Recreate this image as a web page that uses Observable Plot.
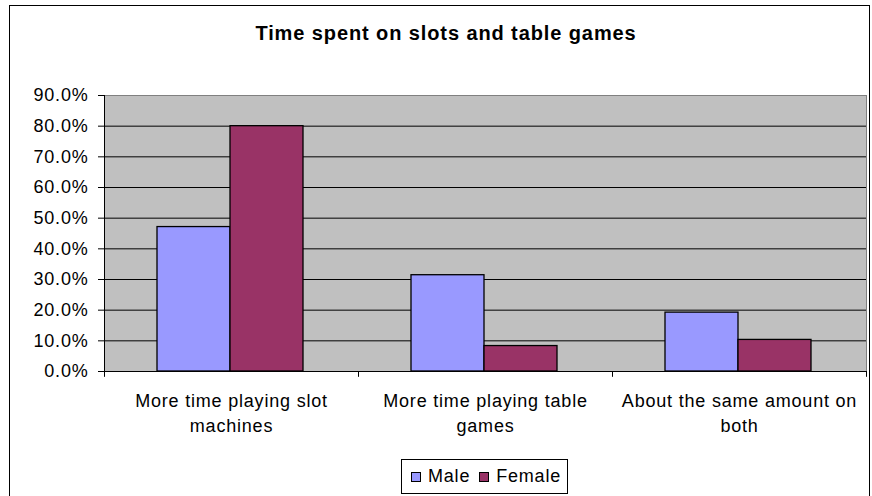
<!DOCTYPE html>
<html>
<head>
<meta charset="utf-8">
<script src="https://cdn.jsdelivr.net/npm/d3@7"></script>
<script src="https://cdn.jsdelivr.net/npm/@observablehq/plot@0.6"></script>
<style>
  body { margin: 0; background: #fff; }
  #wrap { position: relative; width: 872px; height: 496px; overflow: hidden; font-family: Arial, "Liberation Sans", sans-serif; color: #000; }
  #chart { position: absolute; left: 0; top: 0; }
  #border { position: absolute; left: 9px; top: 5px; width: 861px; height: 530px; border: 1px solid #000; box-sizing: border-box; pointer-events: none; }
  #title { position: absolute; left: 10px; width: 872px; top: 23px; line-height: 20px; text-align: center; font-weight: bold; font-size: 20px; letter-spacing: 0.9px; white-space: nowrap; }
  #legend { position: absolute; left: 401px; top: 459px; width: 167px; height: 35px; border: 1px solid #000; box-sizing: border-box; background: #fff; display: flex; align-items: center; padding-left: 9px; font-size: 18px; letter-spacing: 0.8px; white-space: nowrap; }
  #legend .sw { display: inline-block; width: 8px; height: 8px; border: 1px solid #000; margin-right: 7px; }
  #legend .item { display: flex; align-items: center; margin-right: 9px; }
</style>
</head>
<body>
<div id="wrap">
  <div id="chart"></div>
  <div id="title"></div>
  <div id="legend"></div>
  <div id="border"></div>
</div>
<script>
const titleText = "Time spent on slots and table games";
const categories = [
  "More time playing slot machines",
  "More time playing table games",
  "About the same amount on both"
];
const categoryLabels = [
  "More time playing slot\nmachines",
  "More time playing table\ngames",
  "About the same amount on\nboth"
];
const series = ["Male", "Female"];
const maleValues = [47.1, 31.4, 19.2];
const femaleValues = [80.0, 8.3, 10.3];
const seriesColors = ["#9999FF", "#993366"];
const yTicks = [0, 10, 20, 30, 40, 50, 60, 70, 80, 90];

const rows = [];
categories.forEach((c, i) => {
  rows.push({category: c, series: "Male", value: maleValues[i]});
  rows.push({category: c, series: "Female", value: femaleValues[i]});
});

document.getElementById("title").textContent = titleText;

const chart = Plot.plot({
  width: 872,
  height: 496,
  marginLeft: 104,
  marginRight: 6,
  marginTop: 95,
  marginBottom: 125,
  style: {background: "transparent", fontFamily: "Arial, 'Liberation Sans', sans-serif", fontSize: "18px", color: "black", letterSpacing: "0.8px", overflow: "visible"},
  x: {type: "band", domain: categories, padding: 0, axis: null, label: null},
  y: {domain: [0, 90], axis: null, label: null},
  color: {domain: series, range: seriesColors},
  marks: [
    Plot.frame({fill: "#C0C0C0", stroke: "#808080"}),
    Plot.gridY({ticks: yTicks.slice(1, -1), stroke: "black", strokeOpacity: 1}),
    Plot.barY(rows.filter(d => d.series === "Male"), {x: "category", y: "value", fill: "series", stroke: "black", strokeWidth: 1.3, insetLeft: 53, insetRight: 128}),
    Plot.barY(rows.filter(d => d.series === "Female"), {x: "category", y: "value", fill: "series", stroke: "black", strokeWidth: 1.3, insetLeft: 126, insetRight: 55}),
    Plot.frame({anchor: "left", stroke: "black"}),
    Plot.ruleY([0], {stroke: "black"}),
    Plot.ruleX(categories, {x: d => d, dx: 127, y1: 0, y2: -1.9, stroke: "black"}),
    Plot.ruleX([categories[0]], {x: d => d, dx: -127, y1: 0, y2: -1.9, stroke: "black"}),
    Plot.axisY({ticks: yTicks, tickFormat: d => d.toFixed(1) + "%", tickSize: 6, tickPadding: 10, stroke: "black", label: null}),
    Plot.axisX({tickSize: 0, tickPadding: 18.5, lineHeight: 1.356, label: null, tickFormat: d => categoryLabels[categories.indexOf(d)]})
  ]
});
document.getElementById("chart").appendChild(chart);

const legend = document.getElementById("legend");
series.forEach((s, i) => {
  const item = document.createElement("span");
  item.className = "item";
  const sw = document.createElement("span");
  sw.className = "sw";
  sw.style.background = seriesColors[i];
  const label = document.createElement("span");
  label.textContent = s;
  item.appendChild(sw);
  item.appendChild(label);
  legend.appendChild(item);
});
</script>
</body>
</html>
